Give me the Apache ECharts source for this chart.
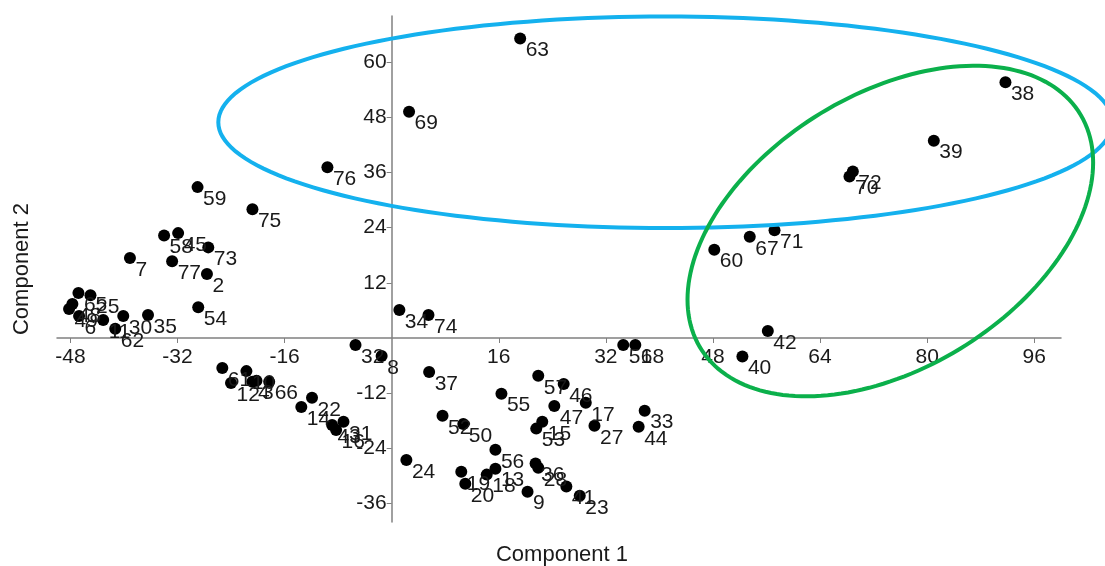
<!DOCTYPE html>
<html>
<head>
<meta charset="utf-8">
<script src="https://cdn.jsdelivr.net/npm/echarts@6/dist/echarts.min.js"></script>
<style>
html,body{margin:0;padding:0;background:#fff;}
#chart{width:1105px;height:566px;}
</style>
</head>
<body>
<div id="chart"></div>
<script>
// Sample labels with their scores on Component 1 (x) and Component 2 (y)
const labels = ['63','69','76','59','75','58','45','73','77','2','7','54',
  '65','25','48','49','6','11','30','35','62',
  '61','10','12','4','3','66','14','22','43','31','16',
  '32','8','34','74','37','24',
  '57','46','55','47','17','33','44','27','52','50','15','53','56',
  '19','20','18','13','9','36','28','41','23','51','68',
  '38','39','72','70','60','67','71','42','40'];
const compX = [19.2,2.6,-9.6,-29.0,-20.8,-34.0,-31.9,-27.4,-32.8,-27.6,-39.1,-28.9,
  -46.8,-45.0,-47.7,-48.2,-46.7,-43.1,-40.1,-36.4,-41.3,
  -25.3,-21.7,-24.0,-20.8,-20.2,-18.3,-13.5,-11.9,-8.9,-7.2,-8.3,
  -5.4,-1.5,1.15,5.5,5.6,2.2,
  21.9,25.7,16.4,24.3,29.0,37.8,36.9,30.3,7.6,10.7,22.5,21.6,15.5,
  10.4,11.0,14.2,15.5,20.3,21.5,21.9,26.1,28.1,34.6,36.4,
  91.7,81.0,68.9,68.4,48.2,53.5,57.2,56.2,52.4];
const compY = [65.1,49.2,37.1,32.8,28.0,22.3,22.8,19.7,16.7,13.9,17.4,6.7,
  9.8,9.3,7.4,6.3,4.8,3.9,4.8,5.0,2.0,
  -6.5,-7.2,-9.8,-9.5,-9.3,-9.5,-15.0,-13.0,-18.9,-18.2,-20.0,
  -1.5,-3.9,6.1,5.0,-7.4,-26.5,
  -8.2,-10.0,-12.1,-14.8,-14.1,-15.8,-19.3,-19.1,-16.9,-18.7,-18.2,-19.7,-24.3,
  -29.1,-31.7,-29.7,-28.4,-33.4,-27.3,-28.2,-32.3,-34.3,-1.5,-1.5,
  55.6,42.9,36.2,35.1,19.2,22.0,23.4,1.5,-4.0];

const xTicks = [-48,-32,-16,16,32,48,64,80,96];
const yTicks = [-36,-24,-12,12,24,36,48,60];
const xName = 'Component 1';
const yName = 'Component 2';

// Group ellipses in data units: centre, and two conjugate semi-axis vectors
const blueEllipse = [40.9, 46.9, 66.8, 0, 0, 23.0];
const greenEllipse = [74.5, 23.25, 30.3, 14.9, 0, -32.7];

const chart = echarts.init(document.getElementById('chart'), null, {renderer:'canvas'});
const FONT = 'Liberation Sans, Arial, sans-serif';
const GRID = {left:57, right:44, top:16, bottom:44};

function ellipseSeries(e, color){
  return {
    type:'custom',
    coordinateSystem:'cartesian2d',
    data:[[e[0], e[1]]],
    clip:false,
    silent:true,
    z:10,
    renderItem:function(params, api){
      const pts = [];
      for(let k=0;k<=180;k++){
        const t = k/180*2*Math.PI;
        const c = Math.cos(t), s = Math.sin(t);
        pts.push(api.coord([e[0] + e[2]*c + e[4]*s, e[1] + e[3]*c + e[5]*s]));
      }
      return {type:'polyline', shape:{points:pts}, style:{stroke:color, lineWidth:4, fill:null}};
    }
  };
}

const points = labels.map((l,i)=>({name:l, value:[compX[i], compY[i]]}));

chart.setOption({
  animation:false,
  grid:GRID,
  xAxis:{
    type:'value', min:-50, max:100, position:'bottom',
    axisLine:{onZero:false, lineStyle:{color:'#808080', width:1.5}},
    axisTick:{customValues:xTicks, length:5, lineStyle:{color:'#808080'}},
    axisLabel:{customValues:xTicks, fontSize:21, color:'#1a1a1a', fontFamily:FONT, margin:9},
    splitLine:{show:false}
  },
  yAxis:{
    type:'value', min:-40, max:70, position:'left',
    axisLine:{onZero:false, lineStyle:{color:'#808080', width:1.5}},
    axisTick:{customValues:yTicks, length:5, lineStyle:{color:'#808080'}},
    axisLabel:{customValues:yTicks, fontSize:21, color:'#1a1a1a', fontFamily:FONT, margin:5},
    splitLine:{show:false}
  },
  graphic:[
    {type:'text', x:562, y:555, style:{text:xName, fontSize:22, fill:'#1a1a1a', fontFamily:FONT, align:'center', verticalAlign:'middle'}},
    {type:'text', x:22, y:269, rotation:Math.PI/2, style:{text:yName, fontSize:22, fill:'#1a1a1a', fontFamily:FONT, align:'center', verticalAlign:'middle'}}
  ],
  series:[
    {
      type:'scatter',
      data:points,
      symbolSize:12,
      itemStyle:{color:'#000', opacity:1},
      label:{show:true, formatter:'{b}', position:[11.5, 18], align:'left', verticalAlign:'middle',
        fontSize:21, color:'#1a1a1a', fontFamily:FONT},
      z:5
    },
    ellipseSeries(blueEllipse, '#14b1ee'),
    ellipseSeries(greenEllipse, '#0bb04b')
  ]
});

// Move the axes so they cross at the origin (positions come from the chart's own scales)
const x0 = chart.convertToPixel({xAxisIndex:0}, 0);
const y0 = chart.convertToPixel({yAxisIndex:0}, 0);
const h = chart.getHeight();
chart.setOption({
  xAxis:{offset: -((h - GRID.bottom) - y0)},
  yAxis:{offset: -(x0 - GRID.left)}
});
</script>
</body>
</html>
